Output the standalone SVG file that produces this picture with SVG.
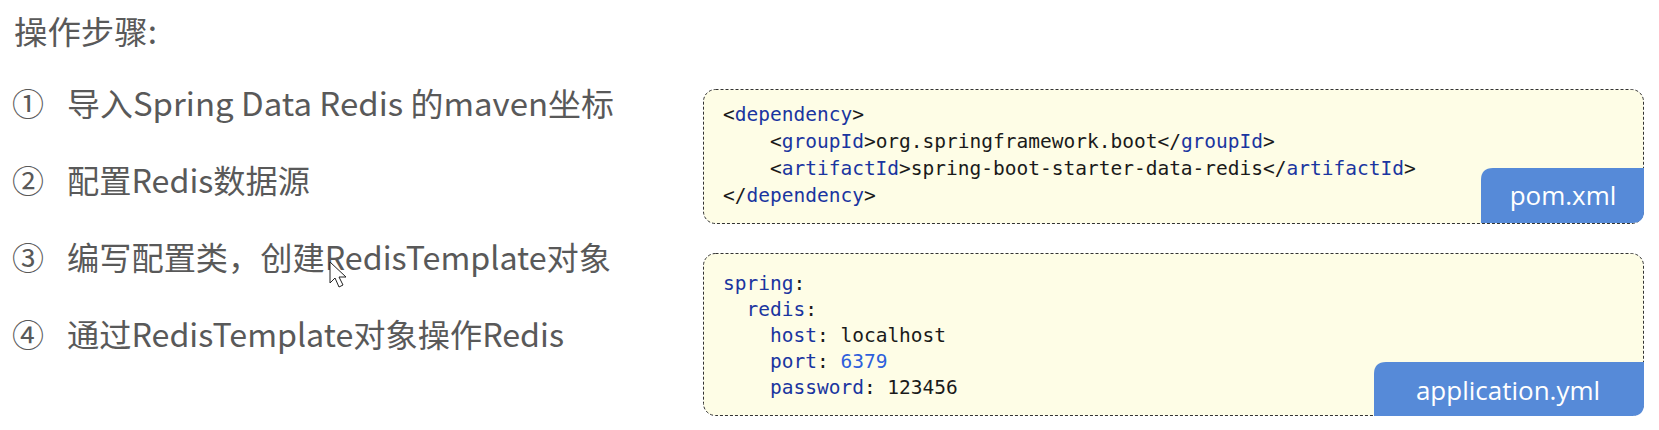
<svg xmlns="http://www.w3.org/2000/svg" width="1659" height="430" viewBox="0 0 1659 430">
<style>
.t{font-family:"Noto Sans CJK SC","Microsoft YaHei",sans-serif;font-size:32px;fill:#595959}
.n{font-family:"Noto Sans CJK SC",sans-serif;font-size:32px;fill:#595959}
.box{fill:#fefde6;stroke:#333;stroke-width:1;stroke-dasharray:3 2}
.tab{fill:#568ad8}
.lab{font-family:"Open Sans","Noto Sans",sans-serif;font-size:26px;fill:#fff;text-anchor:middle}
.c{font-family:"DejaVu Sans Mono","Liberation Mono",monospace;font-size:19.5px;fill:#1a1a1a;white-space:pre}
.k{fill:#1a35a0}
.v{fill:#2d5fdc}
</style>
<rect width="1659" height="430" fill="#fff"/>
<g id="steps">
<text class="t" x="14" y="44" textLength="143" lengthAdjust="spacingAndGlyphs">操作步骤:</text>
<text class="n" x="12" y="116">①</text>
<text class="t" x="67" y="116" textLength="547" lengthAdjust="spacingAndGlyphs">导入Spring Data Redis 的maven坐标</text>
<text class="n" x="12" y="193">②</text>
<text class="t" x="67" y="193" textLength="243" lengthAdjust="spacingAndGlyphs">配置Redis数据源</text>
<text class="n" x="12" y="270">③</text>
<text class="t" x="67" y="270" textLength="544" lengthAdjust="spacingAndGlyphs">编写配置类，创建RedisTemplate对象</text>
<text class="n" x="12" y="347">④</text>
<text class="t" x="67" y="347" textLength="497" lengthAdjust="spacingAndGlyphs">通过RedisTemplate对象操作Redis</text>
</g>
<g id="pom">
<rect class="box" x="703.5" y="89.5" width="940" height="134" rx="12"/>
<path class="tab" d="M1481 223 V180 Q1481 168 1493 168 H1644 V211 Q1644 223 1632 223 Z"/>
<text class="lab" x="1563" y="205">pom.xml</text>
<text class="c" x="723" y="121">&lt;<tspan class="k">dependency</tspan>&gt;</text>
<text class="c" x="723" y="148">    &lt;<tspan class="k">groupId</tspan>&gt;org.springframework.boot&lt;/<tspan class="k">groupId</tspan>&gt;</text>
<text class="c" x="723" y="175">    &lt;<tspan class="k">artifactId</tspan>&gt;spring-boot-starter-data-redis&lt;/<tspan class="k">artifactId</tspan>&gt;</text>
<text class="c" x="723" y="202">&lt;/<tspan class="k">dependency</tspan>&gt;</text>
</g>
<g id="yml">
<rect class="box" x="703.5" y="253.5" width="940" height="162" rx="12"/>
<path class="tab" d="M1374 416 V374 Q1374 362 1386 362 H1644 V404 Q1644 416 1632 416 Z"/>
<text class="lab" x="1508" y="400">application.yml</text>
<text class="c" x="723" y="290"><tspan class="k">spring</tspan>:</text>
<text class="c" x="723" y="316">  <tspan class="k">redis</tspan>:</text>
<text class="c" x="723" y="342">    <tspan class="k">host</tspan>: localhost</text>
<text class="c" x="723" y="368">    <tspan class="k">port</tspan>: <tspan class="v">6379</tspan></text>
<text class="c" x="723" y="394">    <tspan class="k">password</tspan>: 123456</text>
</g>
<g id="connectors"></g>
<polygon points="330,262 330,283 335,278 339,287 343,285 339,277 346,277" fill="#fff" stroke="#222" stroke-width="1"/>
</svg>
